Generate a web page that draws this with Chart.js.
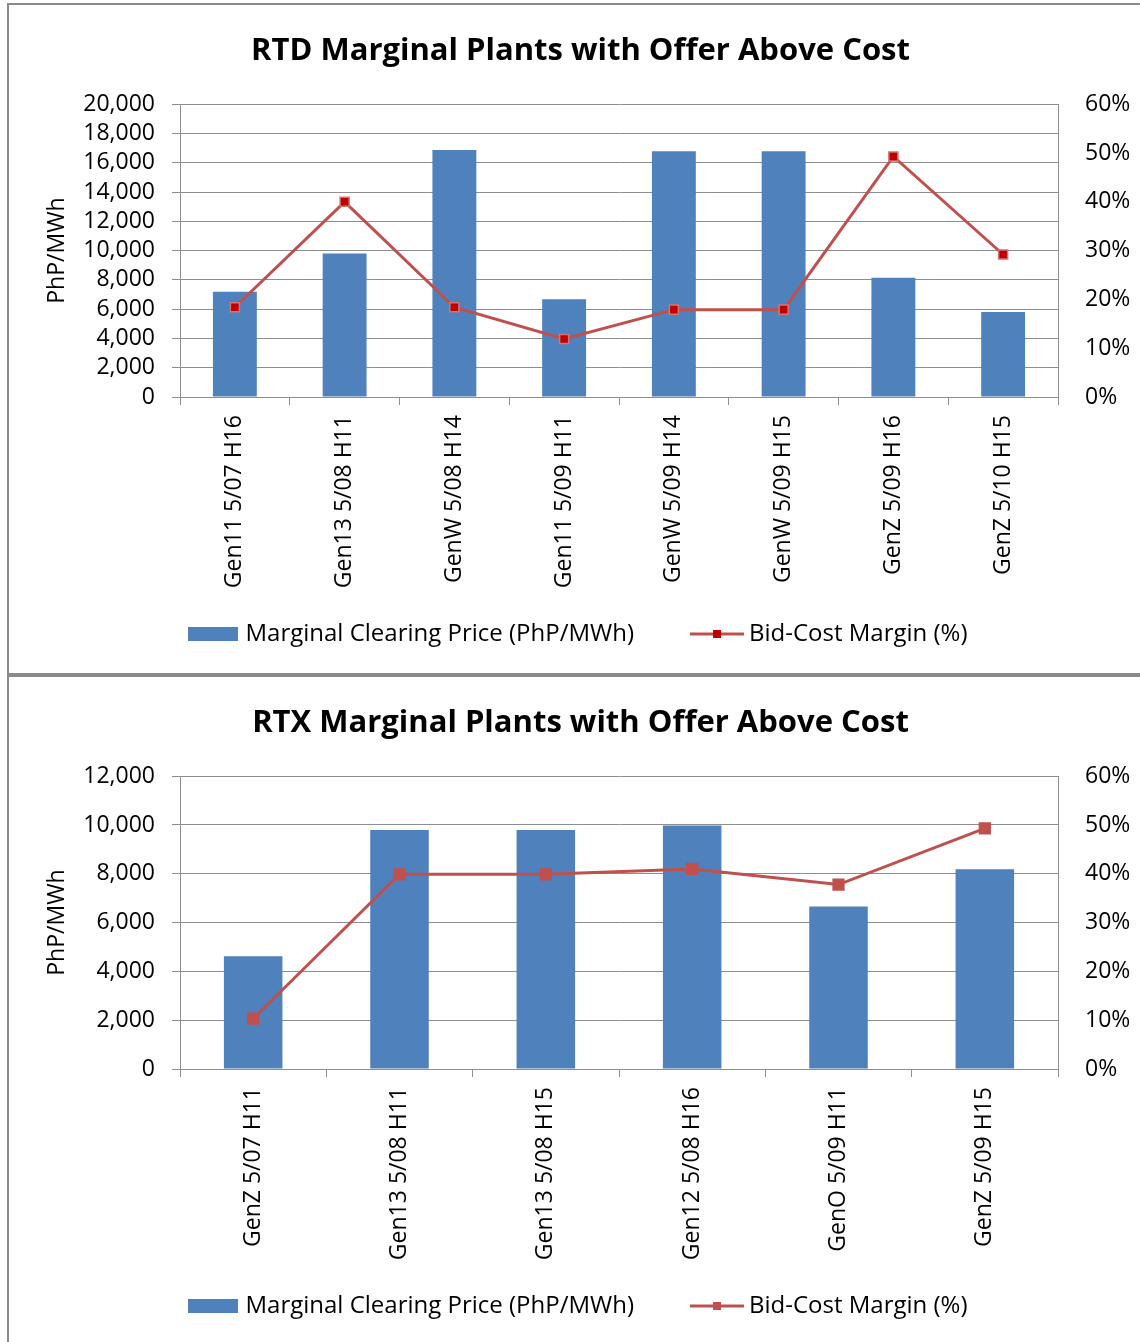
<!DOCTYPE html>
<html>
<head>
<meta charset="utf-8">
<script src="https://cdn.jsdelivr.net/npm/chart.js@4"></script>
<style>
  body { margin: 0; background: #fff; width: 1140px; height: 1342px; position: relative; overflow: hidden; }
  .panel { position: absolute; left: 7px; width: 1140px; border-left: 2px solid #8a8a8a; background: #fff; }
  #p1 { top: 3px; height: 668px; border-top: 2px solid #8a8a8a; }
  #p2 { top: 673px; height: 680px; border-top: 4px solid #8a8a8a; }
  canvas { position: absolute; left: 0; top: 0; }
</style>
</head>
<body>
<div class="panel" id="p1"><canvas id="rtdChart" width="1131" height="668"></canvas></div>
<div class="panel" id="p2"><canvas id="rtxChart" width="1131" height="668"></canvas></div>
<script>
// RTD data
const rtdLabels = ['Gen11 5/07 H16', 'Gen13 5/08 H11', 'GenW 5/08 H14', 'Gen11 5/09 H11',
                   'GenW 5/09 H14', 'GenW 5/09 H15', 'GenZ 5/09 H16', 'GenZ 5/10 H15'];
const rtdPrice = [7190, 9800, 16870, 6670, 16780, 16780, 8150, 5800];
const rtdMargin = [18.4, 40, 18.4, 11.9, 17.9, 17.9, 49.3, 29.2];

// RTX data
const rtxLabels = ['GenZ 5/07 H11', 'Gen13 5/08 H11', 'Gen13 5/08 H15', 'Gen12 5/08 H16',
                   'GenO 5/09 H11', 'GenZ 5/09 H15'];
const rtxPrice = [4620, 9800, 9800, 9980, 6660, 8190];
const rtxMargin = [10.3, 39.9, 39.9, 41, 37.8, 49.3];

const priceLabel = 'Marginal Clearing Price (PhP/MWh)';
const marginLabel = 'Bid-Cost Margin (%)';

const BLUE = '#4F81BD';
const RED = '#C0504D';
const GRID = '#8e8e8e';
const FONT = "'Open Sans', sans-serif";

// legend swatches
function barSwatch(){
    let c = document.createElement('canvas');
    c.width = 50; c.height = 14;
    let g = c.getContext('2d');
    g.fillStyle = BLUE;
    g.fillRect(0, 0, 50, 14);
    return c;
}
function lineSwatch(fill){
    let c = document.createElement('canvas');
    c.width = 54; c.height = 12;
    let g = c.getContext('2d');
    g.strokeStyle = RED;
    g.lineWidth = 3;
    g.beginPath(); g.moveTo(0, 6); g.lineTo(54, 6); g.stroke();
    g.fillStyle = fill;
    g.fillRect(23, 2, 8, 8);
    return c;
}

function makeChart(id, title, labels, price, margin, priceMax, priceStep, marker){
    let ctx = document.getElementById(id);
    return new Chart(ctx, {
        data: {
            labels: labels,
            datasets: [{
                type: 'line',
                label: marginLabel,
                data: margin,
                yAxisID: 'y1',
                order: 1,
                borderColor: RED,
                borderWidth: 3,
                pointStyle: 'rect',
                pointRadius: marker.radius,
                pointBackgroundColor: marker.fill,
                pointBorderColor: marker.border,
                pointBorderWidth: 1.5
            }, {
                type: 'bar',
                label: priceLabel,
                data: price,
                yAxisID: 'y',
                order: 2,
                backgroundColor: BLUE,
                categoryPercentage: 1.0,
                barPercentage: 0.4
            }]
        },
        options: {
            responsive: false,
            animation: false,
            layout: { padding: { left: 12, right: 0, top: 0, bottom: 17 } },
            plugins: {
                tooltip: { enabled: false },
                title: {
                    display: true,
                    text: title,
                    color: '#000',
                    font: { family: FONT, weight: 'bold', size: 31 },
                    padding: { top: 28, bottom: 34 }
                },
                legend: {
                    position: 'bottom',
                    labels: {
                        usePointStyle: true,
                        pointStyleWidth: 40,
                        boxHeight: 14,
                        padding: 63,
                        color: '#000',
                        font: { family: FONT, size: 24 },
                        generateLabels: function(){
                            return [
                                { text: priceLabel, pointStyle: barSwatch(), hidden: false, datasetIndex: 1, lineWidth: 0 },
                                { text: marginLabel, pointStyle: lineSwatch(marker.fill), hidden: false, datasetIndex: 0, lineWidth: 0 }
                            ];
                        }
                    }
                }
            },
            scales: {
                x: {
                    grid: { display: true, drawOnChartArea: false, color: GRID, tickLength: 8, offset: true },
                    border: { color: GRID, width: 1 },
                    ticks: {
                        autoSkip: false,
                        minRotation: 90,
                        maxRotation: 90,
                        padding: 10,
                        color: '#000',
                        font: { family: FONT, size: 23 }
                    },
                    afterFit: function(scale){
                        scale.height = 162;
                        // rotated labels run past the axis box, don't clip them
                        scale._computeLabelArea = function(){ return undefined; };
                    }
                },
                y: {
                    position: 'left',
                    min: 0,
                    max: priceMax,
                    grid: { color: GRID, tickLength: 8 },
                    border: { color: GRID, width: 1 },
                    ticks: {
                        stepSize: priceStep,
                        autoSkip: false,
                        padding: 17,
                        color: '#000',
                        font: { family: FONT, size: 23 },
                        callback: function(v){ return v.toLocaleString('en-US'); }
                    },
                    title: {
                        display: true,
                        text: 'PhP/MWh',
                        color: '#000',
                        font: { family: FONT, size: 23 },
                        padding: { top: 23, bottom: 0 }
                    },
                    afterFit: function(scale){ scale.width = 159; }
                },
                y1: {
                    position: 'right',
                    min: 0,
                    max: 60,
                    grid: { display: true, drawOnChartArea: false, drawTicks: false },
                    border: { color: GRID, width: 1 },
                    ticks: {
                        stepSize: 10,
                        autoSkip: false,
                        padding: 27,
                        color: '#000',
                        font: { family: FONT, size: 23 },
                        callback: function(v){ return v + '%'; }
                    },
                    afterFit: function(scale){ scale.width = 82; }
                }
            }
        }
    });
}

makeChart('rtdChart', 'RTD Marginal Plants with Offer Above Cost', rtdLabels, rtdPrice, rtdMargin, 20000, 2000,
          { radius: 6.4, fill: '#C00000', border: '#D27575' });
makeChart('rtxChart', 'RTX Marginal Plants with Offer Above Cost', rtxLabels, rtxPrice, rtxMargin, 12000, 2000,
          { radius: 7.6, fill: RED, border: RED });
</script>
</body>
</html>
